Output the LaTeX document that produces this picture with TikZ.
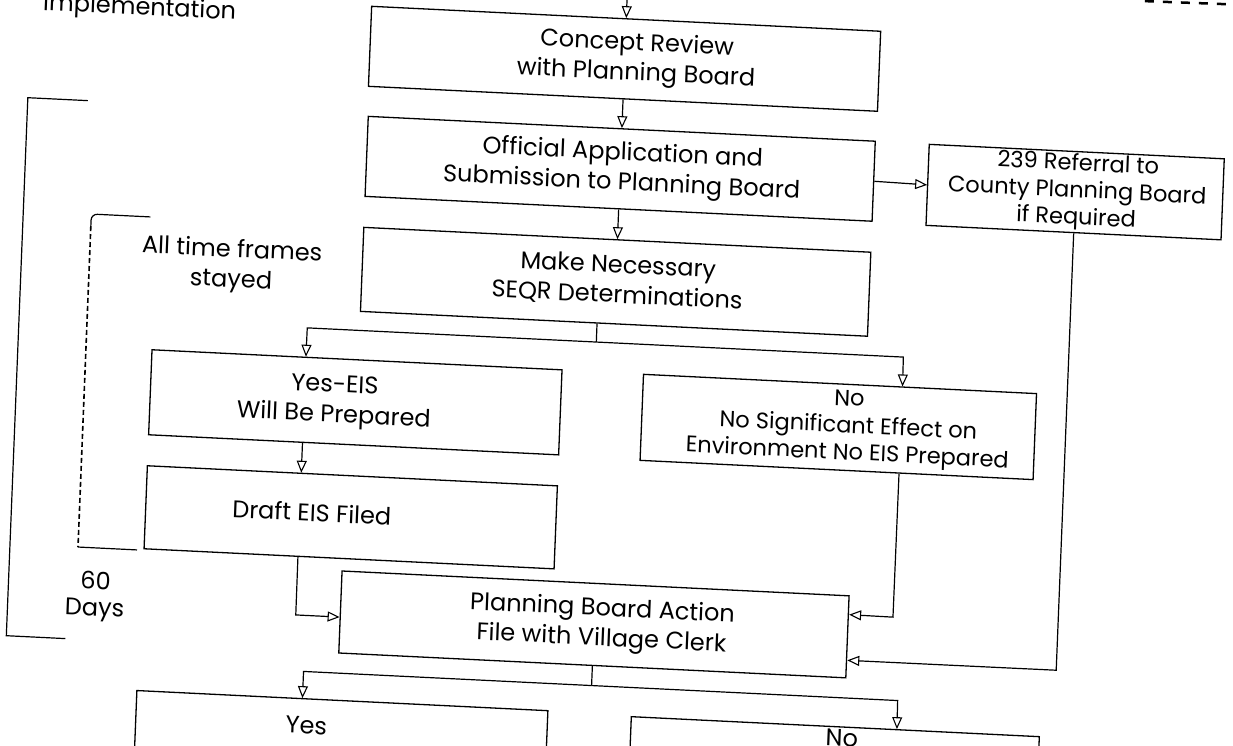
\documentclass[tikz,border=0pt]{standalone}
\usepackage{fontspec}
\setmainfont{Poppins}
\usetikzlibrary{arrows.meta,calc}
\newcommand\shiftedtext[2]{\makebox[0pt]{\hspace*{#1}\begin{tabular}{@{}c@{}}#2\end{tabular}\hspace*{-#1}}}
\tikzset{
  box/.style={draw, line width=1.3pt, inner sep=0pt, font=\fontsize{24}{30}\selectfont},
  tightbox/.style={box, font=\fontsize{22.5}{27}\selectfont},
  link/.style={line width=1.2pt},
  arrowlink/.style={line width=1.2pt, -{Triangle[open, length=12pt, width=10pt, line width=1.1pt]}},
  freetext/.style={align=center, inner sep=0pt, font=\fontsize{24}{30}\selectfont},
}
\begin{document}
\begin{tikzpicture}[x=1pt,y=-1pt]
\useasboundingbox (0,0) rectangle (1233,746);
\clip (0,0) rectangle (1233,746);
\fill[white] (0,0) rectangle (1233,746);
\begin{scope}[cm={1,-0.049,0.040,1,(14.92pt,30.184pt)}, transform shape]
  % boxes
  \node[box, minimum width=509pt, minimum height=80pt] (concept) at (612,59)
    {\shiftedtext{12pt}{Concept Review\\with Planning Board}};
  \node[box, minimum width=507pt, minimum height=80pt] (official) at (612,169)
    {\shiftedtext{2pt}{Official Application and\\Submission to Planning Board}};
  \node[tightbox, minimum width=295pt, minimum height=80pt] (referral) at (1067,170)
    {\shiftedtext{2pt}{239 Referral to\\County Planning Board\\if Required}};
  \node[box, minimum width=507pt, minimum height=84pt] (seqr) at (612,282)
    {\shiftedtext{2pt}{Make Necessary\\SEQR Determinations}};
  \node[box, minimum width=410pt, minimum height=85pt] (yes) at (357,415)
    {\shiftedtext{-21pt}{Yes-EIS\\Will Be Prepared}};
  \node[tightbox, minimum width=393pt, minimum height=86pt] (no) at (840,416)
    {\shiftedtext{10pt}{No\\No Significant Effect on\\Environment No EIS Prepared}};
  \node[box, minimum width=410pt, minimum height=83pt] (draft) at (357,530)
    {\shiftedtext{-39pt}{Draft EIS Filed}};
  \node[box, minimum width=507pt, minimum height=82pt] (plan) at (604,625)
    {\shiftedtext{8pt}{Planning Board Action\\File with Village Clerk}};
  \node[box, minimum width=411pt, text height=35pt, text depth=45pt, anchor=north] (byes) at (356,712.7)
    {\makebox[0pt]{\hspace*{-70pt}Yes}};
  \node[box, minimum width=408pt, text height=19pt, text depth=70pt, anchor=north] (bno) at (849,714.6)
    {\makebox[0pt]{\hspace*{14pt}No}};

  % free texts
  \node[freetext] (stayed) at (228,285) {All time frames\\stayed};
  \node[freetext, font=\fontsize{24}{26}\selectfont] (days) at (105,622) {60\\Days};
  \node[freetext, anchor=base] (impl) at (126,39) {Implementation};

  % connectors
  \coordinate (topin) at (612,-20);
  \draw[arrowlink] (topin) -- (concept.north);
  \draw[arrowlink] (concept.south) -- (official.north);
  \draw[arrowlink] (official.south) -- (seqr.north);
  \draw[arrowlink] (official.east) -- (referral.west);

  \coordinate (sbm) at (595,343);
  \coordinate (sbl) at (306,343);
  \coordinate (sbr) at (902,343);
  \draw[link] ($(seqr.south west)!0.4665!(seqr.south east)$) -- (sbm);
  \draw[arrowlink] (sbm) -- (sbl) -- ($(yes.north west)!0.3756!(yes.north east)$);
  \draw[arrowlink] (sbm) -- (sbr) -- ($(no.north west)!0.658!(no.north east)$);

  \draw[arrowlink] ($(yes.south west)!0.3756!(yes.south east)$) -- ($(draft.north west)!0.3756!(draft.north east)$);

  \coordinate (dpc) at (306,630);
  \draw[arrowlink] ($(draft.south west)!0.3756!(draft.south east)$) -- (dpc) -- ($(plan.north west)!0.56!(plan.south west)$);

  \coordinate (npc) at (902,603);
  \draw[arrowlink] ($(no.south west)!0.658!(no.south east)$) -- (npc) -- ($(plan.north east)!0.232!(plan.south east)$);

  \coordinate (rpc) at (1067,648);
  \draw[arrowlink] (referral.south) -- (rpc) -- ($(plan.north east)!0.78!(plan.south east)$);

  \coordinate (pbm) at (604,686);
  \coordinate (pbl) at (316,686);
  \coordinate (pbr) at (910,686);
  \draw[link] (plan.south) -- (pbm);
  \draw[arrowlink] (pbm) -- (pbl) -- ($(byes.north west)!0.403!(byes.north east)$);
  \draw[arrowlink] (pbm) -- (pbr) -- ($(bno.north west)!0.65!(bno.north east)$);

  % brackets
  \draw[link] (78,127) -- (18,127) -- (18,665) -- (77,665);
  \draw[link, rounded corners=6pt] (145,240) -- (86,240) -- (86,252);
  \draw[link, line width=1.6pt, dash pattern=on 5pt off 3pt] (86,252) -- (86,573);
  \draw[link] (86,573) -- (145,573);

  % cut-off dashes at top right
  \draw[line width=2.5pt, dash pattern=on 9pt off 9pt] (1129,-24) -- (1217,-25);
\end{scope}
\end{tikzpicture}
\end{document}
